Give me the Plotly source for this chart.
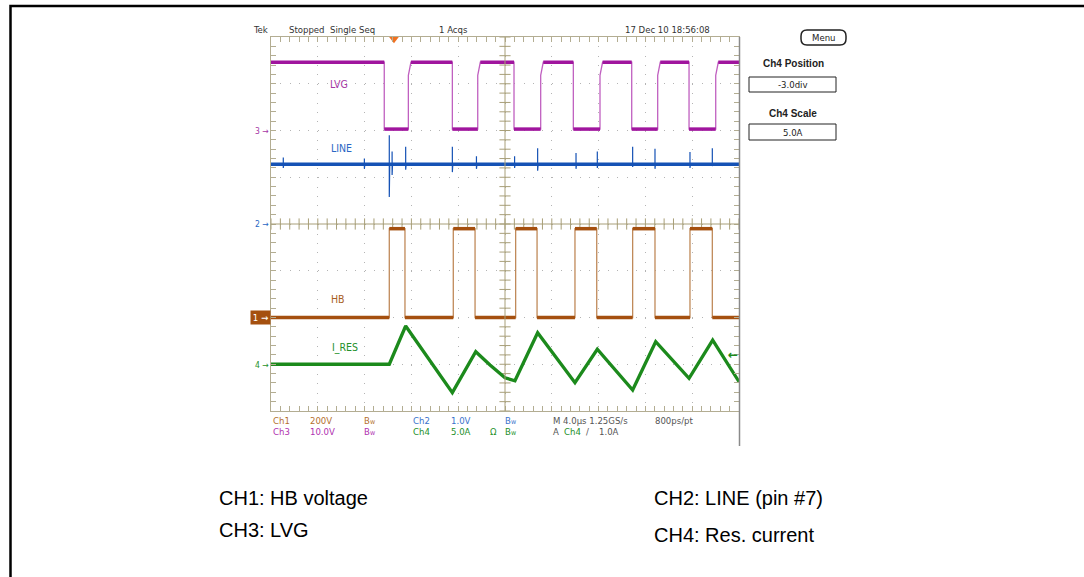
import plotly.graph_objects as go

W, H = 1084, 577

# ---------------- data ----------------
# time base: 4 us/div, 10 div
time_range_us = [0, 40]

# Ch3  LVG (V)
lvg_fall_us = [9.68, 15.50, 20.77, 25.84, 30.83, 35.73]
lvg_rise_us = [11.74, 17.67, 23.05, 28.12, 33.05, 38.01]
lvg_high_v = 14.6
lvg_low_v = 0.3
lvg_knee_v = 11.8

# Ch1  HB (V)
hb_rise_us = [10.11, 15.58, 20.91, 25.98, 30.91, 35.81]
hb_fall_us = [11.45, 17.44, 22.74, 27.84, 32.82, 37.72]
hb_high_v = 380
hb_low_v = 0

# Ch2  LINE (V)
line_base_v = 1.28
line_spike_us = [1.05, 7.98, 10.11, 10.35, 11.51, 15.50, 17.56, 20.82, 22.79,
                 26.07, 27.89, 30.91, 32.82, 35.81, 37.72]
line_spike_hi_v = [1.42, 1.40, 1.90, 1.55, 1.65, 1.65, 1.45, 1.45, 1.62,
                   1.52, 1.55, 1.65, 1.61, 1.54, 1.62]
line_spike_lo_v = [1.20, 1.18, 0.58, 1.05, 1.16, 1.11, 1.18, 1.20, 1.14,
                   1.18, 1.20, 1.22, 1.18, 1.20, 1.24]

# Ch4  I_RES (A)
ires_us = [0, 10.11, 11.51, 15.50, 17.50, 18.72, 20.0, 20.85, 22.79, 25.98,
           27.89, 30.91, 32.88, 35.73, 37.75, 40.0]
ires_a = [0.0, 0.0, 4.09, -3.04, 1.34, -0.08, -1.45, -1.76, 3.37, -1.97,
          1.60, -2.75, 2.41, -1.50, 2.59, -1.87]

# channel settings: volts(amps)/div and position (div)
ch_scale = {"Ch1": 200.0, "Ch2": 1.0, "Ch3": 10.0, "Ch4": 5.0}
ch_pos = {"Ch1": -2.0, "Ch2": 0.0, "Ch3": 2.0, "Ch4": -3.0}
trig_pos_us = 10.51
trig_level_a = 1.0

# ---------------- colours / fonts ----------------
C_LVG = "#a0159e"
C_LINE = "#1552b5"
C_HB = "#a5500f"
C_IRES = "#1c8a1c"
GRAT = "#b3ad92"
CENTER = "#a89f78"
DOTS = "#b4b4b4"
NARROW = "Liberation Sans Narrow, DejaVu Sans Condensed, Arial Narrow, sans-serif"
SANS = "Liberation Sans, Arial, Helvetica, sans-serif"


def px(x):
    return x / W


def py(y):
    return 1 - y / H


def ch_range(ch):
    s, p = ch_scale[ch], ch_pos[ch]
    return [(-4 - p) * s, (4 - p) * s]


def square_low_first(rises, falls, lo, hi, t0, t1):
    full_x, full_y, fx, fy = [t0], [lo], [t0], [lo]
    for r, f in zip(rises, falls):
        full_x += [r, r, f, f]
        full_y += [lo, hi, hi, lo]
        fx += [r, None, r, f, None, f]
        fy += [lo, None, hi, hi, None, lo]
    full_x.append(t1)
    full_y.append(lo)
    fx.append(t1)
    fy.append(lo)
    return full_x, full_y, fx, fy


def square_high_first(falls, rises, hi, lo, knee, t0, t1, knee_dt=0.22):
    full_x, full_y, fx, fy = [t0], [hi], [t0], [hi]
    for f, r in zip(falls, rises):
        full_x += [f, f, r, r, r + knee_dt]
        full_y += [hi, lo, lo, knee, hi]
        fx += [f, None, f, r, None, r + knee_dt]
        fy += [hi, None, lo, lo, None, hi]
    full_x.append(t1)
    full_y.append(hi)
    fx.append(t1)
    fy.append(hi)
    return full_x, full_y, fx, fy


fig = go.Figure()

# ---- LVG (Ch3) ----
lx, ly, lfx, lfy = square_high_first(lvg_fall_us, lvg_rise_us, lvg_high_v, lvg_low_v,
                                     lvg_knee_v, *time_range_us)
fig.add_trace(go.Scatter(x=lx, y=ly, yaxis="y3", mode="lines",
                         line=dict(color="#c060c0", width=1.3), hoverinfo="skip"))
fig.add_trace(go.Scatter(x=lfx, y=lfy, yaxis="y3", mode="lines",
                         line=dict(color=C_LVG, width=3.5), hoverinfo="skip"))

# ---- LINE (Ch2) ----
fig.add_trace(go.Scatter(x=time_range_us, y=[line_base_v, line_base_v], yaxis="y",
                         mode="lines", line=dict(color=C_LINE, width=3.5), hoverinfo="skip"))
sx, sy = [], []
for t, hi, lo in zip(line_spike_us, line_spike_hi_v, line_spike_lo_v):
    sx += [t, t, t + 0.04, None]
    sy += [hi, lo, line_base_v, None]
fig.add_trace(go.Scatter(x=sx, y=sy, yaxis="y", mode="lines",
                         line=dict(color=C_LINE, width=1.2), hoverinfo="skip"))

# ---- HB (Ch1) ----
hx, hy, hfx, hfy = square_low_first(hb_rise_us, hb_fall_us, hb_low_v, hb_high_v,
                                    *time_range_us)
fig.add_trace(go.Scatter(x=hx, y=hy, yaxis="y2", mode="lines",
                         line=dict(color="#c08a5a", width=1.3), hoverinfo="skip"))
fig.add_trace(go.Scatter(x=hfx, y=hfy, yaxis="y2", mode="lines",
                         line=dict(color=C_HB, width=3.5), hoverinfo="skip"))

# ---- I_RES (Ch4) ----
fig.add_trace(go.Scatter(x=ires_us, y=ires_a, yaxis="y4", mode="lines",
                         line=dict(color=C_IRES, width=3.3), hoverinfo="skip"))

# ---- graticule centre cross ticks ----
xt = [i * 0.8 for i in range(51)]
yt = [-4 + i * 0.2 for i in range(41)]
fig.add_trace(go.Scatter(x=xt, y=[0] * len(xt), yaxis="y", mode="markers",
                         marker=dict(symbol="line-ns", size=8,
                                     line=dict(color=CENTER, width=1)),
                         hoverinfo="skip", cliponaxis=False))
fig.add_trace(go.Scatter(x=[20] * len(yt), y=yt, yaxis="y", mode="markers",
                         marker=dict(symbol="line-ew", size=8,
                                     line=dict(color=CENTER, width=1)),
                         hoverinfo="skip", cliponaxis=False))

# trigger position marker
fig.add_trace(go.Scatter(x=[trig_pos_us], y=[3.96], yaxis="y", mode="markers",
                         marker=dict(symbol="triangle-down", size=9, color="#f07020"),
                         hoverinfo="skip", cliponaxis=False))

shapes = [
    # centre lines
    dict(type="line", xref="x", yref="y", x0=20, x1=20, y0=-4, y1=4,
         line=dict(color=CENTER, width=1)),
    dict(type="line", xref="x", yref="y", x0=0, x1=40, y0=0, y1=0,
         line=dict(color=CENTER, width=1)),
    # right edge line extending below readout
    dict(type="line", xref="paper", yref="paper", x0=px(739.5), x1=px(739.5),
         y0=py(446), y1=py(37), line=dict(color="#8a8a8a", width=1.5)),
    # outer black frame
    dict(type="rect", xref="paper", yref="paper", x0=px(10.5), x1=1.05,
         y0=-0.05, y1=py(6), line=dict(color="black", width=2.5)),
    # right panel boxes
    dict(type="rect", xref="paper", yref="paper", x0=px(749), x1=px(836),
         y0=py(92), y1=py(77), line=dict(color="#222", width=1)),
    dict(type="rect", xref="paper", yref="paper", x0=px(749), x1=px(836),
         y0=py(140), y1=py(124), line=dict(color="#222", width=1)),
]
# Menu button (rounded)
mx0, mx1, my0, my1, r = 801, 846, 30, 45, 6
path = (f"M {px(mx0 + r)},{py(my0)} L {px(mx1 - r)},{py(my0)} "
        f"Q {px(mx1)},{py(my0)} {px(mx1)},{py(my0 + r)} L {px(mx1)},{py(my1 - r)} "
        f"Q {px(mx1)},{py(my1)} {px(mx1 - r)},{py(my1)} L {px(mx0 + r)},{py(my1)} "
        f"Q {px(mx0)},{py(my1)} {px(mx0)},{py(my1 - r)} L {px(mx0)},{py(my0 + r)} "
        f"Q {px(mx0)},{py(my0)} {px(mx0 + r)},{py(my0)} Z")
shapes.append(dict(type="path", xref="paper", yref="paper", path=path,
                   line=dict(color="#222", width=1.5)))

annotations = []


def ann(x, y, text, color="#333", size=9.5, xanchor="left", family=NARROW, **kw):
    annotations.append(dict(x=px(x), y=py(y), xref="paper", yref="paper", text=text,
                            showarrow=False, xanchor=xanchor, yanchor="middle",
                            font=dict(family=family, size=size, color=color), **kw))


# header
ann(251, 29, "Tek", "#333")
ann(287, 29, "Stopped  Single Seq", "#333")
ann(437, 29, "1 Acqs", "#333")
ann(623, 29, "17 Dec 10 18:56:08", "#333")

# trace labels
ann(339, 84, "LVG", "#a535a5", 10.5, "center")
ann(341, 148, "LINE", "#2a66c4", 10.5, "center")
ann(338, 299, "HB", "#a85e22", 10.5, "center")
ann(345, 347, "I_RES", "#24902a", 10.5, "center")

# channel ground markers
ann(262, 130.5, "3 \u2192", "#a535a5", 8.5, "center")
ann(262, 224, "2 \u2192", "#2a66c4", 8.5, "center")
ann(262, 364.5, "4 \u2192", "#24902a", 8.5, "center")
annotations.append(dict(x=px(260.5), y=py(317.5), xref="paper", yref="paper",
                        text="1 \u2192", showarrow=False, xanchor="center", yanchor="middle",
                        bgcolor=C_HB, borderpad=1, width=17,
                        font=dict(family=NARROW, size=9.5, color="white")))
# trigger level marker (Ch4 axis)
annotations.append(dict(x=px(733), y=trig_level_a, xref="paper", yref="y4",
                        text="<b>\u2190</b>", showarrow=False, xanchor="center",
                        yanchor="middle",
                        font=dict(family="DejaVu Sans", size=12, color=C_IRES)))

# readout
BW = "B<span style='font-size:7px'>w</span>"
r1, r2 = 420, 431.5
ann(271, r1, "Ch1", "#b4702e")
ann(308, r1, "200V", "#b4702e")
ann(362, r1, BW, "#b4702e")
ann(411, r1, "Ch2", "#3a72cc")
ann(449, r1, "1.0V", "#3a72cc")
ann(503, r1, BW, "#3a72cc")
ann(551, r1, "M 4.0\u00b5s 1.25GS/s", "#555")
ann(653, r1, "800ps/pt", "#555")
ann(271, r2, "Ch3", "#b030b0")
ann(308, r2, "10.0V", "#b030b0")
ann(362, r2, BW, "#b030b0")
ann(411, r2, "Ch4", "#24902a")
ann(449, r2, "5.0A", "#24902a")
ann(488, r2, "\u03a9", "#24902a")
ann(503, r2, BW, "#24902a")
ann(551, r2, "A", "#555")
ann(562, r2, "Ch4", "#24902a")
ann(584, r2, "/", "#555")
ann(597, r2, "1.0A", "#555")

# right panel
ann(823, 37.5, "Menu", "#222", 9.5, "center")
ann(793, 64, "<b>Ch4 Position</b>", "#222", 10, "center", family=SANS)
ann(792.5, 84.5, "-3.0div", "#222", 9.5, "center")
ann(793, 113, "<b>Ch4 Scale</b>", "#222", 10, "center", family=SANS)
ann(792.5, 132, "5.0A", "#222", 9.5, "center")

# figure captions
ann(217, 498, "CH1: HB voltage", "black", 20, family=SANS)
ann(217, 530, "CH3: LVG", "black", 20, family=SANS)
ann(652, 498, "CH2: LINE (pin #7)", "black", 20, family=SANS)
ann(652, 535, "CH4: Res. current", "black", 20, family=SANS)

xdom = [px(271), px(739)]
ydom = [py(411), py(37)]
common_ax = dict(showline=True, linecolor=GRAT, linewidth=1, mirror="allticks",
                 ticks="inside", ticklen=5, tickcolor=GRAT, tickwidth=1,
                 showticklabels=False, zeroline=False, showgrid=True,
                 gridcolor=DOTS, gridwidth=1, griddash="1px,8.36px", fixedrange=True)

fig.update_layout(
    width=W, height=H, margin=dict(l=0, r=0, t=0, b=0),
    paper_bgcolor="white", plot_bgcolor="white", showlegend=False,
    xaxis=dict(domain=xdom, range=time_range_us, dtick=4,
               minor=dict(ticks="inside", dtick=0.8, ticklen=5, tickcolor=GRAT,
                          showgrid=False),
               **common_ax),
    yaxis=dict(domain=ydom, range=ch_range("Ch2"), dtick=1,
               minor=dict(ticks="inside", dtick=0.2, ticklen=5, tickcolor=GRAT,
                          showgrid=False),
               **common_ax),
    yaxis2=dict(overlaying="y", range=ch_range("Ch1"), visible=False, fixedrange=True),
    yaxis3=dict(overlaying="y", range=ch_range("Ch3"), visible=False, fixedrange=True),
    yaxis4=dict(overlaying="y", range=ch_range("Ch4"), visible=False, fixedrange=True),
    shapes=shapes,
    annotations=annotations,
)

fig.write_html("out.html", config={"displayModeBar": False},
               post_script="document.body.style.margin='0';")
